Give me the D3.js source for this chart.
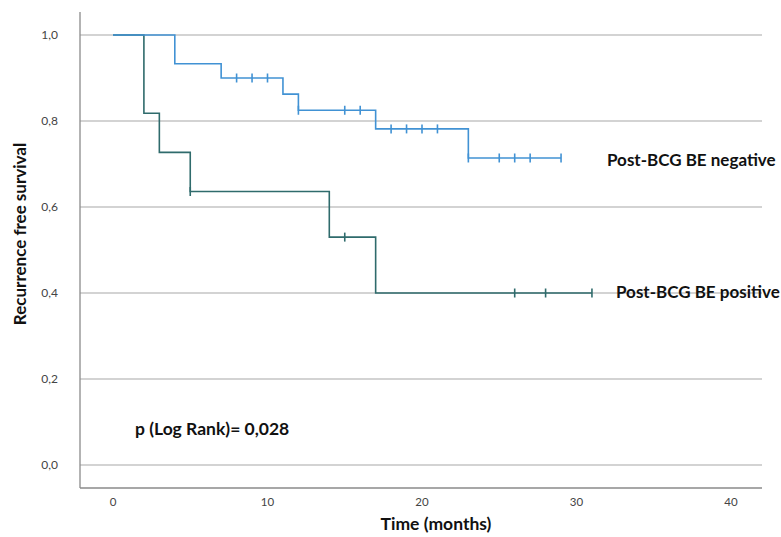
<!DOCTYPE html>
<html>
<head>
<meta charset="utf-8">
<script src="https://d3js.org/d3.v7.min.js"></script>
<style>
  body { margin: 0; background: #fff; }
  text { font-family: Lato, "Open Sans", sans-serif; }
</style>
</head>
<body>
<script>
// Kaplan-Meier steps: [time, survival after that time]
var negSteps = [[0, 1], [4, 0.933], [7, 0.9], [11, 0.8625], [12, 0.825], [17, 0.7816], [23, 0.714], [29, 0.714]];
var negCensor = [[8, 0.9], [9, 0.9], [10, 0.9], [12, 0.825], [15, 0.825], [16, 0.825],
                 [18, 0.7816], [19, 0.7816], [20, 0.7816], [21, 0.7816],
                 [23, 0.714], [25, 0.714], [26, 0.714], [27, 0.714], [29, 0.714]];

var posSteps = [[0, 1], [2, 0.818], [3, 0.727], [5, 0.636], [14, 0.530], [17, 0.40], [31, 0.40]];
var posCensor = [[5, 0.636], [15, 0.530], [26, 0.40], [28, 0.40], [31, 0.40]];

var xTicks = [0, 10, 20, 30, 40];
var yTicks = [0, 0.2, 0.4, 0.6, 0.8, 1.0];

var width = 781, height = 537;
var x = d3.scaleLinear().domain([0, 40]).range([113, 731]);
var y = d3.scaleLinear().domain([0, 1]).range([465, 35]);

var svg = d3.select("body").append("svg")
    .attr("width", width)
    .attr("height", height);

// gridlines
svg.append("g").selectAll("line")
    .data(yTicks)
  .enter().append("line")
    .attr("x1", 80).attr("x2", 762)
    .attr("y1", function(d) { return y(d); })
    .attr("y2", function(d) { return y(d); })
    .attr("stroke", "#c4c4c4")
    .attr("stroke-width", 1.3);

// axes frame
svg.append("line").attr("x1", 80).attr("x2", 80).attr("y1", 12).attr("y2", 488)
    .attr("stroke", "#8a8a8a").attr("stroke-width", 1.3);
svg.append("line").attr("x1", 80).attr("x2", 762).attr("y1", 488).attr("y2", 488)
    .attr("stroke", "#8a8a8a").attr("stroke-width", 1.3);

var fmt = function(d) { return d3.format(".1f")(d).replace(".", ","); };

svg.append("g").selectAll("text")
    .data(yTicks)
  .enter().append("text")
    .attr("x", 58)
    .attr("y", function(d) { return y(d); })
    .attr("dy", "0.35em")
    .attr("text-anchor", "end")
    .attr("font-size", 12)
    .attr("fill", "#444")
    .text(fmt);

svg.append("g").selectAll("text")
    .data(xTicks)
  .enter().append("text")
    .attr("x", function(d) { return x(d); })
    .attr("y", 502)
    .attr("dy", "0.35em")
    .attr("text-anchor", "middle")
    .attr("font-size", 11.5)
    .attr("fill", "#444")
    .text(function(d) { return d; });

var line = d3.line()
    .x(function(d) { return x(d[0]); })
    .y(function(d) { return y(d[1]); })
    .curve(d3.curveStepAfter);

function drawCurve(steps, censor, color) {
  svg.append("path")
      .datum(steps)
      .attr("d", line)
      .attr("fill", "none")
      .attr("stroke", color)
      .attr("stroke-width", 1.6);
  svg.append("g").selectAll("line")
      .data(censor)
    .enter().append("line")
      .attr("x1", function(d) { return x(d[0]); })
      .attr("x2", function(d) { return x(d[0]); })
      .attr("y1", function(d) { return y(d[1]) - 4.5; })
      .attr("y2", function(d) { return y(d[1]) + 4.5; })
      .attr("stroke", color)
      .attr("stroke-width", 1.6);
}

drawCurve(posSteps, posCensor, "#2f6b6c");
drawCurve(negSteps, negCensor, "#4192d4");

// labels
svg.append("text")
    .attr("x", 607).attr("y", 160).attr("dy", "0.35em")
    .attr("font-size", 17).attr("font-weight", "bold").attr("fill", "#111")
    .text("Post-BCG BE negative");
svg.append("text")
    .attr("x", 616).attr("y", 292).attr("dy", "0.35em")
    .attr("font-size", 17).attr("font-weight", "bold").attr("fill", "#111")
    .text("Post-BCG BE positive");
svg.append("text")
    .attr("x", 135).attr("y", 429).attr("dy", "0.35em")
    .attr("font-size", 17.5).attr("font-weight", "bold").attr("fill", "#111")
    .text("p (Log Rank)= 0,028");

svg.append("text")
    .attr("x", 436).attr("y", 524).attr("dy", "0.35em")
    .attr("text-anchor", "middle")
    .attr("font-size", 17.5).attr("font-weight", "bold").attr("fill", "#111")
    .text("Time (months)");

svg.append("text")
    .attr("transform", "translate(20,234) rotate(-90)")
    .attr("dy", "0.35em")
    .attr("text-anchor", "middle")
    .attr("font-size", 17).attr("font-weight", "bold").attr("fill", "#111")
    .text("Recurrence free survival");
</script>
</body>
</html>
